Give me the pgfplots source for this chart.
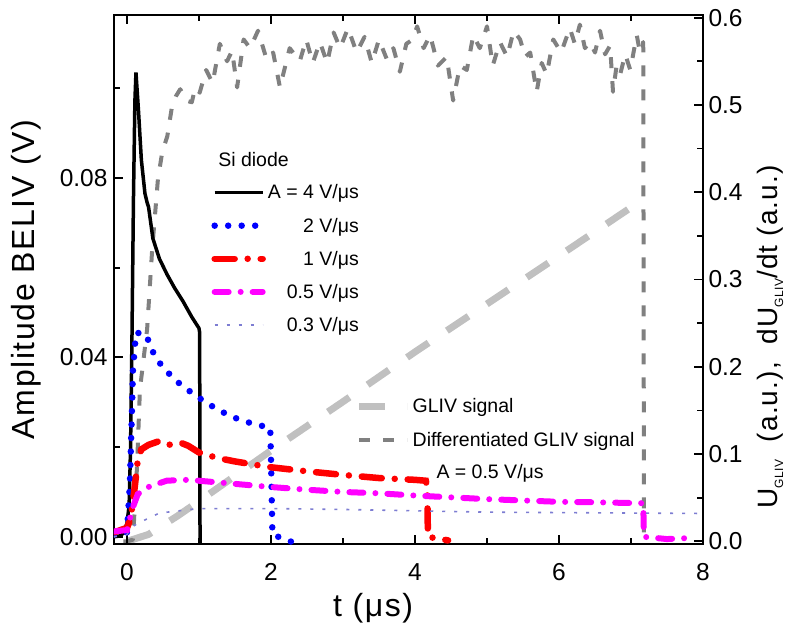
\documentclass[border=0pt]{standalone}
\usepackage{pgfplots}
\pgfplotsset{compat=1.18}
\usepackage{fontspec}
\setmainfont{Liberation Sans}
\definecolor{lilac}{RGB}{125,125,210}
\definecolor{lgray}{RGB}{192,192,192}
\definecolor{dgray}{RGB}{128,128,128}
\definecolor{mag}{RGB}{255,0,255}
\newcommand{\tickfont}{\fontsize{24.5bp}{28bp}\selectfont}
\newcommand{\labfont}{\fontsize{32bp}{38bp}\selectfont\addfontfeatures{LetterSpace=5}}
\newcommand{\rlabfont}{\fontsize{28bp}{32bp}\selectfont\addfontfeatures{LetterSpace=4}}
\newcommand{\legfont}{\fontsize{19.5bp}{23bp}\selectfont}
\newcommand{\sub}[1]{\raisebox{-0.4ex}{\fontsize{12bp}{13bp}\selectfont #1}}
\begin{document}
\begin{tikzpicture}
\useasboundingbox (-114bp,-88bp) rectangle (682bp,544bp);
% ---------- right axis: GLIV ----------
\begin{axis}[
  at={(0,0)}, anchor=south west, scale only axis,
  width=589bp, height=529bp,
  xmin=-0.18, xmax=8, ymin=-0.003, ymax=0.603,
  axis x line=none, axis y line*=right,
  axis line style={line width=2.2bp},
  tick align=inside,
  ytick={0,0.1,...,0.6}, minor y tick num=1,
  major tick length=9bp, minor tick length=6bp,
  every tick/.style={line width=1.8bp, black},
  yticklabel style={/pgf/number format/fixed, /pgf/number format/fixed zerofill, /pgf/number format/precision=1, /pgf/number format/assume math mode=true, xshift=2bp},
  ticklabel style={font=\tickfont},
  ylabel={U\sub{GLIV}\ \ (a.u.),\ \ dU\sub{GLIV}/dt (a.u.)},
  ylabel style={at={(rel axis cs:1.114,0.391)}, anchor=center, font=\rlabfont},
  legend style={at={(rel axis cs:0.405,0.283)}, anchor=north west, draw=none, fill=none, font=\legfont, row sep=14bp},
  legend cell align=left,
  legend image code/.code={\draw[#1] (0bp,0bp) -- (48bp,0bp);},
]
\addplot[lgray, line width=7bp, dash pattern=on 26bp off 22bp] coordinates {
(0.0,0.0) (0.3,0.008) (0.7,0.029) (1.0,0.046) (1.5,0.075) (2.0,0.104) (3.0,0.160) (4.0,0.217) (5.0,0.272) (6.0,0.327) (7.17,0.392)};
\addlegendentry{GLIV signal}
\addplot[dgray, line width=4bp, line join=round, dash pattern=on 11bp off 13bp] coordinates {
(-0.05,0) (0.0,0.0) (0.083,0.002) (0.14,0.086) (0.18,0.174) (0.28,0.243) (0.35,0.334) (0.43,0.415) (0.49,0.446) (0.56,0.464) (0.625,0.498) (0.68,0.510) (0.74,0.518) (0.82,0.505) (0.90,0.503) (0.95,0.520) (1.01,0.514)
(1.10,0.540) (1.19,0.525) (1.29,0.570) (1.39,0.550) (1.46,0.562) (1.53,0.520) (1.62,0.575) (1.71,0.565) (1.82,0.585) (1.94,0.552) (2.03,0.560) (2.125,0.520) (2.26,0.565) (2.40,0.550) (2.49,0.575) (2.58,0.548) (2.68,0.572) (2.78,0.548) (2.87,0.583) (2.96,0.565) (3.07,0.588) (3.19,0.560) (3.30,0.578) (3.40,0.548) (3.50,0.575) (3.61,0.552) (3.70,0.565) (3.79,0.538) (3.88,0.570) (3.97,0.575) (4.03,0.590) (4.12,0.565) (4.21,0.580) (4.32,0.545) (4.44,0.555) (4.53,0.505) (4.625,0.545) (4.72,0.540) (4.81,0.580) (4.90,0.565) (5.0,0.590) (5.08,0.545) (5.18,0.572) (5.28,0.555) (5.37,0.585) (5.46,0.575) (5.53,0.555) (5.60,0.560) (5.69,0.515) (5.76,0.548) (5.83,0.535) (5.92,0.575) (6.03,0.560) (6.15,0.588) (6.22,0.570) (6.29,0.592) (6.36,0.565) (6.43,0.572) (6.50,0.560) (6.57,0.585) (6.64,0.558) (6.71,0.568) (6.75,0.515) (6.80,0.545) (6.85,0.535) (6.92,0.558) (6.99,0.540) (7.08,0.580) (7.12,0.562) (7.17,0.572) (7.175,0.30) (7.18,0.0)};
\addlegendentry{Differentiated GLIV signal}
\end{axis}
% ---------- left axis: Si diode ----------
\begin{axis}[
  at={(0,0)}, anchor=south west, scale only axis,
  width=589bp, height=529bp,
  xmin=-0.18, xmax=8, ymin=-0.0016, ymax=0.1163,
  axis line style={line width=2.2bp},
  tick align=inside,
  ytick={0,0.04,0.08}, minor ytick={0.02,0.06,0.10},
  xtick={0,2,4,6,8}, minor xtick={1,3,5,7},
  ytick pos=left,
  major tick length=9bp, minor tick length=6bp,
  every tick/.style={line width=1.8bp, black},
  yticklabel style={/pgf/number format/fixed, /pgf/number format/fixed zerofill, /pgf/number format/precision=2, /pgf/number format/assume math mode=true, xshift=-3bp},
  xticklabel style={/pgf/number format/assume math mode=true, yshift=-16bp},
  ticklabel style={font=\tickfont},
  xlabel={t (μs)},
  xlabel style={at={(rel axis cs:0.44,0)}, anchor=center, yshift=-64bp, font=\labfont},
  ylabel={Amplitude BELIV (V)},
  ylabel style={at={(rel axis cs:-0.149,0.5)}, anchor=center, font=\labfont},
  legend style={at={(rel axis cs:0.16,0.687)}, anchor=north west, draw=none, fill=none, font=\legfont, row sep=13.5bp},
  legend cell align=right,
  legend image code/.code={\draw[#1] (0bp,0bp) -- (48bp,0bp);},
]
\addplot[black, line width=3.5bp] coordinates {
(-0.18,0.0) (-0.1,0.0002) (-0.05,0.0008) (0.0,0.003) (0.03,0.007) (0.05,0.02) (0.07,0.045) (0.09,0.075) (0.11,0.097) (0.125,0.1035) (0.16,0.095) (0.2,0.084) (0.25,0.0765) (0.28,0.0745) (0.30,0.0735) (0.36,0.0665) (0.45,0.062) (0.556,0.0585) (0.66,0.0555) (0.778,0.0525) (0.9,0.049) (1.0,0.0465) (1.01,0.0455) (1.012,0.02) (1.015,-0.002)};
\addlegendentry{A = 4 V/μs}
\addplot[blue, line width=6.5bp, line cap=round, dash pattern=on 0bp off 13.5bp] coordinates {
(-0.18,0.0005) (-0.05,0.0005) (0.0,0.001) (0.04,0.0116) (0.07,0.0285) (0.083,0.037) (0.125,0.0455) (0.26,0.0452) (0.39,0.0401) (0.53,0.0372) (0.72,0.0343) (0.9,0.0321) (1.1,0.0299) (1.29,0.0281) (1.47,0.0267) (1.62,0.0258) (1.8,0.0250) (1.99,0.0243) (2.0,0.0176) (2.01,0.0091) (2.02,0.0005) (2.3,-0.0012)};
\addlegendentry{2 V/μs}
\addplot[red, line width=6.5bp, line cap=round, dash pattern=on 20bp off 13bp on 0bp off 13bp] coordinates {
(-0.18,0.001) (0.0,0.002) (0.05,0.004) (0.1,0.010) (0.15,0.017) (0.2,0.0195) (0.3,0.0205) (0.46,0.0214) (0.6,0.0205) (0.74,0.0210) (0.85,0.0203) (1.0,0.0188) (1.25,0.0176) (1.5,0.0168) (1.8,0.0160) (2.0,0.0155) (2.5,0.0146) (3.0,0.0138) (3.5,0.0131) (4.0,0.0127) (4.15,0.0125) (4.17,0.0110) (4.18,0.0) (4.46,-0.0008)};
\addlegendentry{1 V/μs}
\addplot[mag, line width=6bp, line cap=round, dash pattern=on 14bp off 12bp on 0bp off 12bp] coordinates {
(-0.18,0.0012) (0.0,0.0015) (0.08,0.0065) (0.15,0.0095) (0.28,0.0110) (0.55,0.0125) (0.8,0.0127) (1.0,0.0125) (1.5,0.0118) (2.0,0.0111) (2.5,0.0105) (3.0,0.0100) (3.5,0.0097) (4.0,0.0092) (4.5,0.0088) (5.0,0.0084) (5.5,0.0081) (6.0,0.0078) (6.5,0.0077) (7.1,0.0075) (7.17,0.0075) (7.18,0.0) (7.5,-0.0005) (7.9,-0.0002)};
\addlegendentry{0.5 V/μs}
\addplot[lilac, line width=1.6bp, dash pattern=on 3bp off 9bp] coordinates {
(-0.18,0.0) (0.0,0.0005) (0.1,0.0025) (0.15,0.0030) (0.45,0.0053) (1.0,0.0063) (2.0,0.0063) (3.0,0.0061) (4.0,0.0058) (5.0,0.0055) (6.0,0.0054) (7.0,0.0053) (8.0,0.0052)};
\addlegendentry{0.3 V/μs}
\node[anchor=west, font=\legfont] at (axis cs:1.22,0.084) {Si diode};
\node[anchor=west, font=\legfont] at (axis cs:4.25,0.0142) {A = 0.5 V/μs};
\end{axis}
\end{tikzpicture}
\end{document}
